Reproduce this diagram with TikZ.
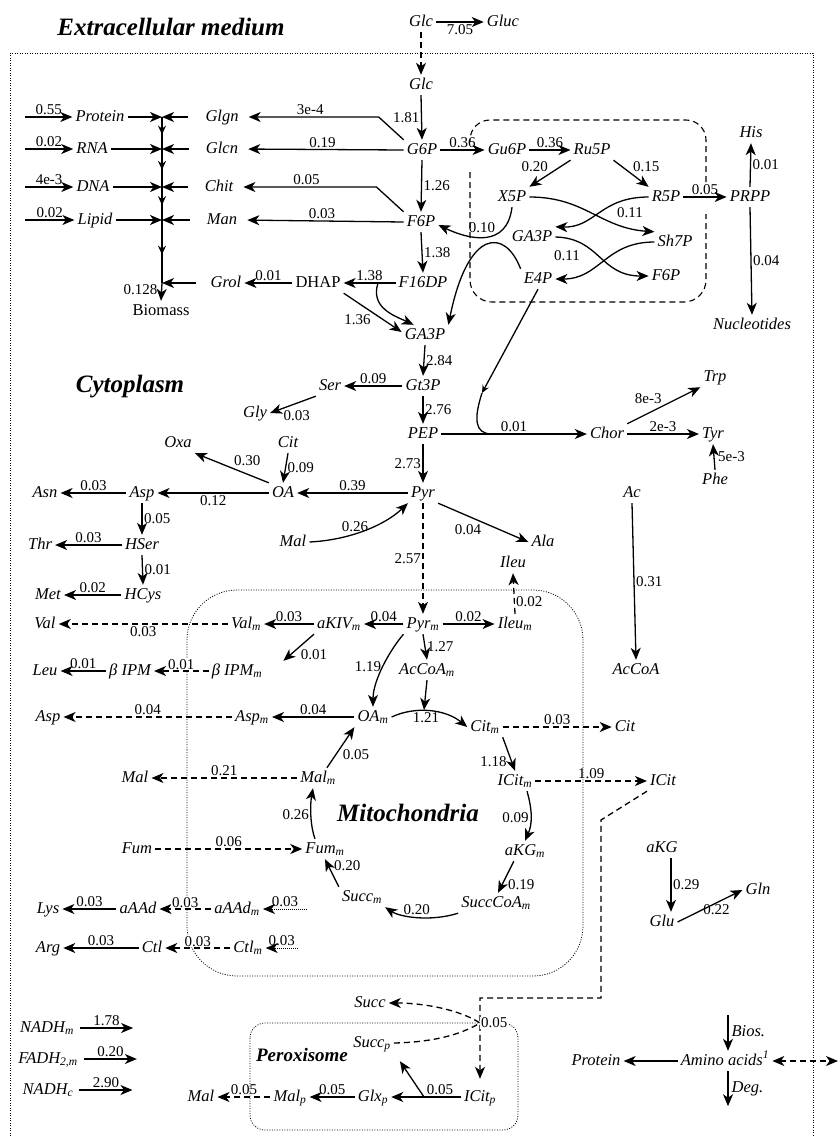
\documentclass[tikz,border=0pt]{standalone}
\usepackage{fontspec}
\setmainfont{Liberation Serif}
\usetikzlibrary{arrows.meta,calc,decorations.markings}

\begin{document}
\begin{tikzpicture}[
x=1pt, y=-1pt,
>={Stealth[length=12pt,width=10pt,inset=3.5pt]},
met/.style={font=\fontsize{16.5}{18}\selectfont\itshape, inner sep=3pt, text height=11pt, text depth=3pt},
upr/.style={met, font=\fontsize{16.5}{18}\selectfont},
lab/.style={font=\fontsize{15}{16}\selectfont, inner sep=1.5pt},
gap/.style={lab, fill=white, inner sep=1pt},
ttl/.style={font=\fontsize{25}{28}\selectfont\bfseries\itshape},
arrow/.style={->, line width=1.3pt},
darrow/.style={arrow, dash pattern=on 6pt off 4pt},
dotarrow/.style={->, line width=1pt, dash pattern=on 1pt off 1pt},
midarrow/.style={line width=1.3pt, postaction={decorate},
  decoration={markings, mark=at position 0.55 with {\arrow{Stealth[length=9pt,width=8pt,inset=3pt]}}}},
comp/.style={line width=0.8pt, dash pattern=on 1pt off 1.5pt}
]
\useasboundingbox (0,0) rectangle (838,1136);

% compartments
\draw[comp] (10,1136) -- (10,53) -- (813,53) -- (813,1136);
\draw[comp, rounded corners=50pt] (187,800) -- (187,590) -- (583,590) -- (583,976) -- (187,976) -- cycle;
\draw[comp, rounded corners=15pt] (250,1023) rectangle (518,1130);
\draw[line width=1.1pt, dash pattern=on 6pt off 4pt, rounded corners=22pt] (470,172) -- (470,302) -- (706,302) -- (706,214);
\draw[line width=1.1pt, dash pattern=on 6pt off 4pt, rounded corners=20pt] (706,182) -- (706,120) -- (470,120) -- (470,142);

\node[ttl] (extra) at (171,27) {Extracellular medium};
\node[ttl] (cyto) at (130,387) {Cytoplasm};
\node[ttl] (mito) at (408,813) {Mitochondria};
\node[ttl, font=\fontsize{19}{21}\selectfont\bfseries\itshape] (perox) at (302,1055) {Peroxisome};

% glycolysis
\node[met] (glce) at (421,22) {Glc};
\node[met] (gluc) at (503,22) {Gluc};
\node[met] (glc) at (421,85) {Glc};
\node[met] (g6p) at (422,150) {G6P};
\node[met] (f6p) at (421,222) {F6P};
\node[met] (f16dp) at (423,283) {F16DP};
\node[upr] (dhap) at (318,283) {DHAP};
\node[met] (grol) at (226,283) {Grol};
\node[met] (ga3p) at (425,335) {GA3P};
\node[met] (gt3p) at (423,386) {Gt3P};
\node[met] (pep) at (423,434) {PEP};
\node[met] (pyr) at (423,493) {Pyr};

% pentose phosphates
\node[met] (gu6p) at (507,150) {Gu6P};
\node[met] (ru5p) at (592,150) {Ru5P};
\node[met] (x5p) at (512,197) {X5P};
\node[met] (r5p) at (666,197) {R5P};
\node[met] (prpp) at (750,197) {PRPP};
\node[met] (his) at (751,133) {His};
\node[met] (nucl) at (752,325) {Nucleotides};
\node[met] (ga3pp) at (532,237) {GA3P};
\node[met] (sh7p) at (675,242) {Sh7P};
\node[met] (e4p) at (538,279) {E4P};
\node[met] (f6pp) at (666,276) {F6P};

% biomass
\node[met] (protein) at (100,117) {Protein};
\node[met] (rna) at (92,149) {RNA};
\node[met] (dna) at (93,187) {DNA};
\node[met] (lipid) at (95,220) {Lipid};
\node[met] (glgn) at (222,117) {Glgn};
\node[met] (glcn) at (222,149) {Glcn};
\node[met] (chit) at (219,187) {Chit};
\node[met] (man) at (222,220) {Man};
\node[upr] (biomass) at (161,311) {Biomass};
\coordinate (t1) at (162,117);
\coordinate (t2) at (162,149);
\coordinate (t3) at (162,187);
\coordinate (t4) at (162,220);
\coordinate (t5) at (162,283);
\coordinate (lc) at (25,0);

% cytoplasm
\node[met] (ser) at (330,386) {Ser};
\node[met] (gly) at (255,413) {Gly};
\node[met] (citc) at (288,443) {Cit};
\node[met] (oxa) at (178,443) {Oxa};
\node[met] (oa) at (283,493) {OA};
\node[met] (asp) at (142,493) {Asp};
\node[met] (asn) at (45,493) {Asn};
\node[met] (hser) at (142,545) {HSer};
\node[met] (thr) at (40,545) {Thr};
\node[met] (hcys) at (143,595) {HCys};
\node[met] (metn) at (48,595) {Met};
\node[met] (malc) at (293,542) {Mal};
\node[met] (ala) at (543,542) {Ala};
\node[met] (ileu) at (513,563) {Ileu};
\node[met] (ac) at (632,493) {Ac};
\node[met] (accoa) at (636,670) {AcCoA};
\node[met] (chor) at (607,434) {Chor};
\node[met] (trp) at (715,377) {Trp};
\node[met] (tyr) at (713,434) {Tyr};
\node[met] (phe) at (715,480) {Phe};

% mitochondria
\node[met] (pyrm) at (423,624) {Pyr\textsubscript{m}};
\node[met] (akivm) at (339,624) {aKIV\textsubscript{m}};
\node[met] (valm) at (246,624) {Val\textsubscript{m}};
\node[met] (val) at (45,624) {Val};
\node[met] (bipmm) at (237,671) {β IPM\textsubscript{m}};
\node[met] (bipm) at (130,671) {β IPM};
\node[met] (leu) at (45,671) {Leu};
\node[met] (ileum) at (515,624) {Ileu\textsubscript{m}};
\node[met] (accoam) at (427,670) {AcCoA\textsubscript{m}};
\node[met] (oam) at (373,717) {OA\textsubscript{m}};
\node[met] (aspm) at (252,717) {Asp\textsubscript{m}};
\node[met] (aspx) at (48,717) {Asp};
\node[met] (citm) at (485,727) {Cit\textsubscript{m}};
\node[met] (citx) at (625,727) {Cit};
\node[met] (icitm) at (515,781) {ICit\textsubscript{m}};
\node[met] (icit) at (663,781) {ICit};
\node[met] (akgm) at (525,851) {aKG\textsubscript{m}};
\node[met] (succcoam) at (496,903) {SuccCoA\textsubscript{m}};
\node[met] (succm) at (362,897) {Succ\textsubscript{m}};
\node[met] (fumm) at (325,849) {Fum\textsubscript{m}};
\node[met] (fum) at (137,849) {Fum};
\node[met] (malm) at (318,778) {Mal\textsubscript{m}};
\node[met] (malx) at (135,778) {Mal};
\node[met] (aaadm) at (237,909) {aAAd\textsubscript{m}};
\node[met] (aaad) at (138,909) {aAAd};
\node[met] (lys) at (48,909) {Lys};
\node[met] (ctlm) at (248,948) {Ctl\textsubscript{m}};
\node[met] (ctl) at (152,948) {Ctl};
\node[met] (arg) at (48,948) {Arg};
\node[met] (nadhm) at (47,1028) {NADH\textsubscript{m}};
\node[met] (fadh) at (48,1059) {FADH\textsubscript{2,m}};
\node[met] (nadhc) at (48,1090) {NADH\textsubscript{c}};

% peroxisome
\node[met] (icitp) at (480,1097) {ICit\textsubscript{p}};
\node[met] (glxp) at (373,1097) {Glx\textsubscript{p}};
\node[met] (malp) at (290,1097) {Mal\textsubscript{p}};
\node[met] (malq) at (201,1097) {Mal};
\node[met] (succp) at (372,1043) {Succ\textsubscript{p}};
\node[met] (succ) at (370,1003) {Succ};

% amino acids, right side
\node[met] (akg) at (662,848) {aKG};
\node[met] (glu) at (662,922) {Glu};
\node[met] (gln) at (758,890) {Gln};
\node[met] (aa) at (725,1061) {Amino acids\textsuperscript{1}};
\node[met] (protb) at (596,1061) {Protein};

% uptake
\draw[arrow] (glce.east) -- (gluc.west) node[midway,below,lab]{7.05};
\draw[darrow] (glce.south) -- (glc.north);
\draw[arrow] (glc.south) -- (g6p.north) node[midway,left,lab]{1.81};

% biomass drain
\foreach \l/\v in {protein/0.55, rna/0.02, dna/4e-3, lipid/0.02}
  \draw[arrow] (lc |- \l.west) -- (\l.west) node[midway,above,lab]{\v};
\foreach \l/\r/\t in {protein/glgn/t1, rna/glcn/t2, dna/chit/t3, lipid/man/t4} {
  \draw[arrow] (\l.east) -- (\t);
  \draw[arrow] ([xshift=-14pt]\r.west) -- (\t);
}
\foreach \a/\b in {t1/t2, t2/t3, t3/t4, t4/t5}
  \draw[midarrow] (\a) -- (\b);
\draw[arrow] ([xshift=-12pt]grol.west) -- (t5);
\draw[arrow] (t5) -- (biomass.north);
\node[lab, below left, xshift=-3pt] at (t5) {0.128};

\draw[arrow, shorten >=7pt] (g6p.north west) -- ($(glgn.east)+(137,0)$) -- (glgn.east) node[midway,above,lab]{3e-4};
\draw[arrow, shorten >=7pt] (g6p.west) -- (glcn.east) node[midway,above,lab]{0.19};
\draw[arrow, shorten >=7pt] (f6p.north west) -- ($(chit.east)+(140,0)$) -- (chit.east) node[midway,above,lab]{0.05};
\draw[arrow, shorten >=7pt] (f6p.west) -- (man.east) node[midway,above,lab]{0.03};

% glycolysis
\draw[arrow] (g6p.south) -- (f6p.north) node[midway,right,lab]{1.26};
\draw[arrow] (f6p.south) -- (f16dp.north) node[midway,right,lab]{1.38};
\draw[arrow] (f16dp.west) -- (dhap.east) node[midway,above,lab]{1.38};
\coordinate (ald) at (378,283);
\draw[arrow] (ald) .. controls (370,308) and (395,316) .. ([xshift=12pt]ga3p.north west);
\draw[arrow] (dhap.south east) -- ([yshift=3pt]ga3p.west) node[midway,below left,lab]{1.36};
\draw[arrow] (dhap.west) -- (grol.east) node[midway,above,lab]{0.01};
\draw[arrow] (ga3p.south) -- (gt3p.north) node[midway,right,lab]{2.84};
\draw[arrow] (gt3p.south) -- (pep.north) node[midway,right,lab]{2.76};
\draw[arrow] (pep.south) -- (pyr.north) node[midway,left,lab]{2.73};
\draw[arrow] (gt3p.west) -- (ser.east) node[midway,above,lab]{0.09};
\draw[arrow] (ser.south west) -- (gly.east) node[near end,below right,lab]{0.03};

% pentose phosphate pathway
\draw[arrow] (g6p.east) -- (gu6p.west) node[midway,above,lab]{0.36};
\draw[arrow] (gu6p.east) -- (ru5p.west) node[midway,above,lab]{0.36};
\draw[arrow] (ru5p.south west) -- (x5p.north east) node[midway,above left,lab]{0.20};
\draw[arrow] (ru5p.south east) -- (r5p.north west) node[midway,above right,lab]{0.15};
\draw[arrow] (r5p.east) -- (prpp.west) node[midway,above,lab]{0.05};
\draw[arrow] (prpp.north) -- (his.south) node[midway,right,lab]{0.01};
\draw[arrow] (prpp.south) -- (nucl.north) node[midway,right,lab]{0.04};
\draw[arrow] (x5p.east) .. controls (585,197) and (600,228) .. (sh7p.north west);
\draw[arrow] (r5p.west) .. controls (600,197) and (595,228) .. (ga3pp.north east);
\node[lab] at (630,213) {0.11};
\draw[arrow] (ga3pp.east) .. controls (600,238) and (600,276) .. (f6pp.west);
\draw[arrow] (sh7p.west) .. controls (605,242) and (600,279) .. (e4p.east);
\node[lab] at (567,256) {0.11};
\draw[arrow] (x5p.south) .. controls (507,248) and (470,240) .. ([yshift=-3pt]f6p.east);
\draw[arrow] (e4p.north west) .. controls (505,228) and (468,228) .. (ga3p.north east);
\node[lab] at (482,228) {0.10};

% aromatic amino acids
\draw[arrow] (pep.east) -- (chor.west) node[midway,above,lab]{0.01};
\coordinate (e4pmid) at (482,393);
\coordinate (e4pend) at (492,434);
\draw[->, >={Stealth[length=8pt,width=7pt,inset=3pt]}, line width=1.3pt] (e4p.south) -- (e4pmid);
\draw[line width=1.3pt] (e4pmid) .. controls (474,418) and (474,434) .. (e4pend);
\draw[arrow] (chor.north east) -- (trp.south west) node[midway,above left,lab]{8e-3};
\draw[arrow] (chor.east) -- (tyr.west) node[midway,above,lab]{2e-3};
\draw[arrow] (phe.north) -- (tyr.south) node[midway,right,lab,xshift=2pt]{5e-3};

% pyruvate node
\draw[arrow] (pyr.west) -- (oa.east) node[midway,above,lab]{0.39};
\draw[arrow] (citc.south) -- (oa.north) node[midway,right,lab]{0.09};
\draw[arrow] (oa.north west) -- (oxa.south east) node[midway,above right,lab]{0.30};
\draw[arrow] (oa.west) -- (asp.east) node[midway,below,lab]{0.12};
\draw[arrow] (asp.west) -- (asn.east) node[midway,above,lab]{0.03};
\draw[arrow] (asp.south) -- (hser.north) node[midway,right,lab]{0.05};
\draw[arrow] (hser.west) -- (thr.east) node[midway,above,lab]{0.03};
\draw[arrow] (hser.south) -- (hcys.north) node[midway,right,lab]{0.01};
\draw[arrow] (hcys.west) -- (metn.east) node[midway,above,lab]{0.02};
\draw[arrow] (malc.east) .. controls (350,540) and (385,525) .. (pyr.south west) node[pos=0.4,above,lab]{0.26};
\draw[arrow] (pyr.south east) -- (ala.west) node[midway,below left,lab]{0.04};
\draw[darrow] (pyr.south) -- (pyrm.north) node[midway,left,lab]{2.57};
\draw[arrow] (ac.south) -- (accoa.north) node[midway,right,lab]{0.31};

% mitochondria
\draw[darrow] (ileum.north) -- (ileu.south) node[pos=0.3,right,gap]{0.02};
\draw[arrow] (pyrm.west) -- (akivm.east) node[midway,above,lab]{0.04};
\draw[arrow] (akivm.west) -- (valm.east) node[midway,above,lab]{0.03};
\draw[darrow] (valm.west) -- (val.east) node[midway,below,lab]{0.03};
\draw[arrow] (akivm.south west) -- ([xshift=18pt]bipmm.north east) node[midway,below right,lab]{0.01};
\draw[darrow] (bipmm.west) -- (bipm.east) node[midway,above,gap]{0.01};
\draw[arrow] (bipm.west) -- (leu.east) node[midway,above,lab]{0.01};
\draw[arrow] (pyrm.east) -- (ileum.west) node[midway,above,lab]{0.02};
\draw[arrow] (pyrm.south) -- (accoam.north) node[midway,right,lab]{1.27};
\coordinate (cs) at (424,710);
\draw[arrow] (accoam.south) -- (cs);
\draw[arrow] (oam.east) .. controls (415,706) and (445,709) .. (citm.west) node[pos=0.45,below,lab]{1.21};
\draw[arrow] (pyrm.south west) .. controls (390,650) and (373,680) .. (oam.north) node[midway,left,lab]{1.19};
\draw[arrow] (oam.west) -- (aspm.east) node[midway,above,lab]{0.04};
\draw[darrow] (aspm.west) -- (aspx.east) node[midway,above,lab]{0.04};
\draw[darrow] (citm.east) -- (citx.west) node[midway,above,lab]{0.03};
\draw[arrow] (citm.south east) -- (icitm.north) node[midway,below left,lab]{1.18};
\draw[darrow] (icitm.east) -- (icit.west) node[midway,above,lab]{1.09};
\draw[arrow] ([xshift=12pt]icitm.south) .. controls (533,812) and (532,825) .. (akgm.north) node[midway,left,lab]{0.09};
\draw[arrow] ([xshift=12pt]akgm.south west) -- ([xshift=2pt]succcoam.north) node[midway,below right,lab]{0.19};
\draw[arrow] (succcoam.south west) .. controls (430,922) and (400,917) .. (succm.south east) node[midway,above,lab]{0.20};
\draw[arrow] (succm.north west) -- (fumm.south) node[midway,above right,lab]{0.20};
\draw[darrow] (fum.east) -- (fumm.west) node[midway,above,lab]{0.06};
\draw[arrow] ([xshift=-10pt]fumm.north) .. controls (310,825) and (310,805) .. ([xshift=-5pt]malm.south) node[midway,left,lab]{0.26};
\draw[darrow] (malm.west) -- (malx.east) node[midway,above,lab]{0.21};
\draw[arrow] ([xshift=-12pt]malm.north east) -- (oam.south west) node[midway,below right,lab]{0.05};

% lysine, arginine
\coordinate (aaadin) at (307,909);
\coordinate (ctlin) at (298,948);
\draw[dotarrow] (aaadin) -- (aaadm.east) node[midway,above,lab]{0.03};
\draw[darrow] (aaadm.west) -- (aaad.east) node[midway,above,gap]{0.03};
\draw[arrow] (aaad.west) -- (lys.east) node[midway,above,lab]{0.03};
\draw[dotarrow] (ctlin) -- (ctlm.east) node[midway,above,lab]{0.03};
\draw[darrow] (ctlm.west) -- (ctl.east) node[midway,above,gap]{0.03};
\draw[arrow] (ctl.west) -- (arg.east) node[midway,above,lab]{0.03};

% cofactors
\foreach \n/\v in {nadhm/1.78, fadh/0.20, nadhc/2.90}
  \draw[arrow] ([xshift=3pt]\n.east) -- ++(53,0) node[midway,above,lab]{\v};

% glyoxylate shunt
\coordinate (r1) at (601,820);
\coordinate (r2) at (601,998);
\coordinate (r3) at (480,998);
\coordinate (r4) at (480,1023);
\coordinate (icl) at (424,1097);
\draw[darrow, shorten >=8pt] (icit.south west) -- (r1) -- (r2) -- (r3) -- (icitp.north);
\draw[darrow] (succp.east) .. controls (440,1042) and (465,1032) .. (r4) .. controls (460,1010) and (425,1003) .. (succ.east);
\node[gap, right] at (r4) {0.05};
\draw[arrow] (icitp.west) -- (glxp.east) node[pos=0.3,above,lab]{0.05};
\draw[arrow] (icl) -- ([xshift=6pt,yshift=-8pt]succp.south east);
\draw[arrow] (glxp.west) -- (malp.east) node[midway,above,lab]{0.05};
\draw[darrow] (malp.west) -- (malq.east) node[midway,above,lab]{0.05};

% glutamate, glutamine
\draw[arrow] ([xshift=9pt]akg.south) -- ([xshift=9pt]glu.north) node[midway,right,lab]{0.29};
\draw[arrow] (glu.east) -- (gln.west) node[pos=0.6,below,lab]{0.22};

% amino acid pool
\coordinate (bios) at (728,1015);
\coordinate (aaout) at (838,1061);
\draw[arrow] (bios) -- (bios |- aa.north) node[midway,right,met]{Bios.};
\draw[arrow] (aa.south -| bios) -- ++(0,35) node[midway,right,met]{Deg.};
\draw[arrow] (aa.west) -- (protb.east);
\draw[darrow, <->] (aa.east) -- (aaout);
\end{tikzpicture}
\end{document}
